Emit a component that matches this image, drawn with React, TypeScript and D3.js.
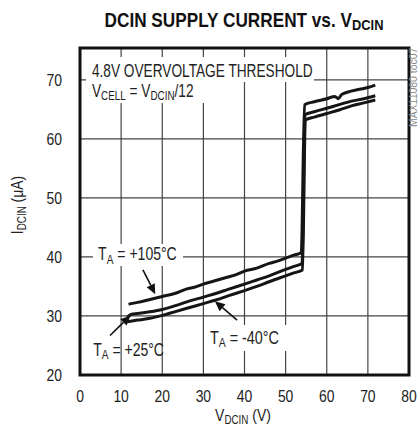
import React from 'react'
import * as d3 from 'd3'

// series (V, uA)
const vdcin105 = [11.8, 14, 17, 20, 23, 26, 28, 30, 33, 36, 38, 40, 43, 46, 48, 50, 52, 53.8, 54.6, 57, 60, 62, 62.8, 63.6, 65, 68, 70, 71.8]
const idcin105 = [32.0, 32.3, 32.8, 33.3, 33.8, 34.6, 34.9, 35.4, 36.0, 36.6, 37.0, 37.6, 38.1, 38.9, 39.3, 39.8, 40.3, 40.7, 65.8, 66.3, 66.8, 67.2, 66.8, 67.5, 67.9, 68.4, 68.7, 69.1]

const vdcin25 = [11.5, 12.5, 14, 17, 20, 23, 26, 30, 33, 36, 40, 43, 46, 50, 52, 54.0, 54.7, 57, 60, 63, 66, 69, 71.8]
const idcin25 = [29.8, 30.3, 30.4, 30.7, 31.1, 31.7, 32.4, 33.2, 33.8, 34.5, 35.4, 36.1, 36.8, 37.9, 38.4, 38.9, 64.1, 64.6, 65.2, 65.8, 66.4, 66.8, 67.3]

const vdcin40 = [11.5, 14, 17, 20, 23, 26, 30, 33, 36, 40, 43, 46, 50, 52, 54.1, 54.8, 57, 60, 63, 66, 69, 71.8]
const idcin40 = [29.0, 29.3, 29.6, 30.1, 30.7, 31.3, 32.1, 32.7, 33.4, 34.3, 35.0, 35.8, 36.8, 37.3, 37.8, 63.2, 63.7, 64.3, 64.9, 65.6, 66.1, 66.6]

const xTicks = [0, 10, 20, 30, 40, 50, 60, 70, 80]
const yTicks = [20, 30, 40, 50, 60, 70]

const W = 418
const H = 436
const margin = { top: 48, right: 9, bottom: 61, left: 80 }
const yTop = 75.4

const FONT = '"Liberation Sans", Arial, sans-serif'

const x = d3.scaleLinear().domain([0, 80]).range([margin.left, W - margin.right])
const y = d3.scaleLinear().domain([20, yTop]).range([H - margin.bottom, margin.top])

function pathFor(vs: number[], is: number[]) {
  const l = d3.line<number>()
    .x((_, i) => x(vs[i]))
    .y((_, i) => y(is[i]))
    .curve(d3.curveMonotoneX)
  return l(vs) || ''
}

// condensed text: squeeze horizontally around the anchor point
function CText(props: { x: number; y: number; sx?: number; size: number; anchor?: string; weight?: string; children: React.ReactNode }) {
  const sx = props.sx ?? 0.8
  return (
    <g transform={`translate(${props.x},${props.y}) scale(${sx},1)`}>
      <text x={0} y={0} fontSize={props.size} textAnchor={props.anchor || 'start'} fontWeight={props.weight}>
        {props.children}
      </text>
    </g>
  )
}

function Sub({ main, sub, rest, subSize }: { main: string; sub: string; rest: string; subSize: number }) {
  return (
    <>
      {main}
      <tspan fontSize={subSize} dy={3}>{sub}</tspan>
      <tspan dy={-3}>{rest}</tspan>
    </>
  )
}

function Arrow({ x1, y1, x2, y2 }: { x1: number; y1: number; x2: number; y2: number }) {
  const ax = x(x1), ay = y(y1), bx = x(x2), by = y(y2)
  const ang = Math.atan2(by - ay, bx - ax)
  const len = 10, wid = 4.5
  const hx = bx - len * Math.cos(ang), hy = by - len * Math.sin(ang)
  const px = -Math.sin(ang) * wid, py = Math.cos(ang) * wid
  return (
    <g>
      <line x1={ax} y1={ay} x2={hx} y2={hy} stroke="#111" strokeWidth={1.6} />
      <polygon points={`${bx},${by} ${hx + px},${hy + py} ${hx - px},${hy - py}`} fill="#111" />
    </g>
  )
}

export default function App() {
  const plotW = x(80) - x(0)
  const plotH = y(20) - y(yTop)
  return (
    <svg width={W} height={H} style={{ position: 'absolute', left: 0, top: 0, background: '#fff' }} fontFamily={FONT}>
      <rect width={W} height={H} fill="#fff" />
      {/* title */}
      <g fill="#111">
        <CText x={244} y={27} size={20} sx={0.86} anchor="middle" weight="bold">
          DCIN SUPPLY CURRENT vs. V<tspan fontSize={15} dy={3}>DCIN</tspan>
        </CText>
      </g>

      {/* grid */}
      <g stroke="#444" strokeWidth={1.2}>
        {xTicks.slice(1, -1).map((t) => (
          <line key={'gx' + t} x1={x(t)} x2={x(t)} y1={y(yTop)} y2={y(20)} />
        ))}
        {yTicks.slice(1).map((t) => (
          <line key={'gy' + t} x1={x(0)} x2={x(80)} y1={y(t)} y2={y(t)} />
        ))}
      </g>

      {/* label backgrounds */}
      <rect x={86} y={57} width={228} height={25} fill="#fff" />
      <rect x={86} y={82} width={120} height={21} fill="#fff" />
      <rect x={93} y={244} width={90} height={22} fill="#fff" />
      <rect x={205} y={325} width={82} height={26} fill="#fff" />

      {/* frame */}
      <rect x={x(0)} y={y(yTop)} width={plotW} height={plotH} fill="none" stroke="#111" strokeWidth={3} />

      {/* curves */}
      <g fill="none" stroke="#151515" strokeWidth={3} strokeLinejoin="round">
        <path d={pathFor(vdcin105, idcin105)} />
        <path d={pathFor(vdcin25, idcin25)} />
        <path d={pathFor(vdcin40, idcin40)} />
      </g>

      {/* annotations */}
      <g fill="#222">
        <CText x={x(2.9)} y={y(70.5)} size={18} sx={0.76}>4.8V OVERVOLTAGE THRESHOLD</CText>
        <CText x={x(2.9)} y={y(67.1)} size={18} sx={0.76}>
          V<tspan fontSize={13} dy={3}>CELL</tspan>
          <tspan dy={-3}> = V</tspan>
          <tspan fontSize={13} dy={3}>DCIN</tspan>
          <tspan dy={-3}>/12</tspan>
        </CText>
        <CText x={x(4.4)} y={y(39.4)} size={18} sx={0.78}>
          <Sub main="T" sub="A" rest=" = +105°C" subSize={13} />
        </CText>
        <CText x={x(3.2)} y={y(23.3)} size={18} sx={0.78}>
          <Sub main="T" sub="A" rest=" = +25°C" subSize={13} />
        </CText>
        <CText x={x(31.6)} y={y(25.3)} size={18} sx={0.8}>
          <Sub main="T" sub="A" rest=" = -40°C" subSize={13} />
        </CText>
      </g>
      <Arrow x1={15.3} y1={37.8} x2={18.3} y2={33.7} />
      <Arrow x1={7.3} y1={26.7} x2={12.3} y2={30.1} />
      <Arrow x1={38.2} y1={29.3} x2={32.8} y2={32.5} />

      {/* axes labels */}
      <g fill="#222">
        {yTicks.map((t) => (
          <CText key={'yl' + t} x={62} y={y(t) + 6} size={17} sx={0.82} anchor="end">{t}</CText>
        ))}
        {xTicks.map((t) => (
          <CText key={'xl' + t} x={x(t)} y={402} size={17} sx={0.82} anchor="middle">{t}</CText>
        ))}
        <CText x={243} y={421} size={17} sx={0.82} anchor="middle">
          <Sub main="V" sub="DCIN" rest=" (V)" subSize={12} />
        </CText>
        <g transform="translate(23,205) rotate(-90)">
          <CText x={0} y={0} size={17} sx={0.82} anchor="middle">
            <Sub main="I" sub="DCIN" rest=" (μA)" subSize={12} />
          </CText>
        </g>
      </g>
      <g transform="translate(417,127) rotate(-90)" fill="#888">
        <CText x={0} y={0} size={11} sx={0.95}>MAX11080 toc07</CText>
      </g>
    </svg>
  )
}
